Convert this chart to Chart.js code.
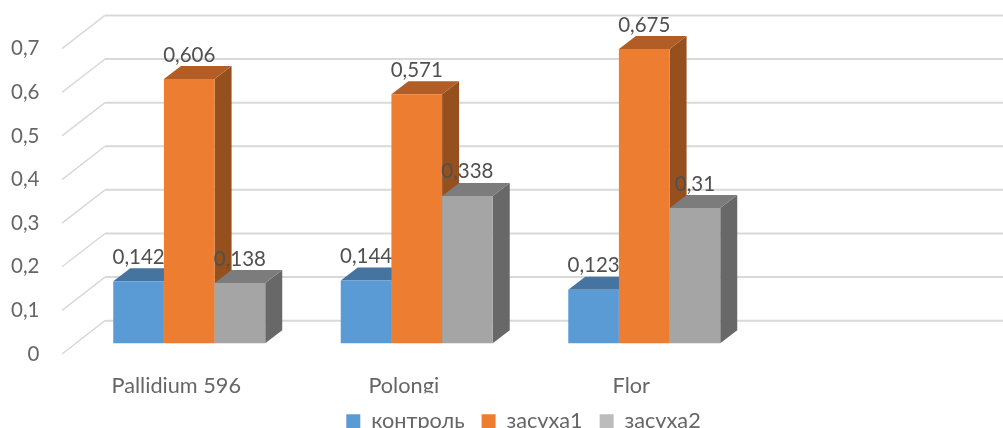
<!DOCTYPE html>
<html>
<head>
<meta charset="utf-8">
<title>контроль / засуха</title>
<script src="https://cdn.jsdelivr.net/npm/chart.js@4/dist/chart.umd.min.js"></script>
<style>
    html, body { margin: 0; padding: 0; background: #fff; overflow: hidden; }
    #chart-box { position: relative; width: 1003px; height: 428px; }
</style>
</head>
<body>
<div id="chart-box"><canvas id="drought-chart"></canvas></div>
<script>
// Values per variety; the last category stays empty and only reserves room on the axis
const categories = ['Pallidium 596', 'Polongi', 'Flor', ''];
const seriesNames = ['контроль', 'засуха1', 'засуха2'];
const kontrol = [0.142, 0.144, 0.123, null];
const zasukha1 = [0.606, 0.571, 0.675, null];
const zasukha2 = [0.138, 0.338, 0.31, null];
const yStep = 0.1;
const yMax = 0.7;

const frontColors = ['#5B9BD5', '#ED7D31', '#A5A5A5'];
const topColors = ['#44749F', '#B25D25', '#7C7C7C'];
const sideColors = ['#3F6C95', '#95501D', '#686868'];
const legendColors = ['#5B9BD5', '#ED7D31', '#BBBCBB'];

const FONT = 'Lato, "Open Sans", sans-serif';
const VALUE_FONT_SIZE = 20.5;
const LABEL_FONT_SIZE = 21.7;
const TICK_COLOR = '#666666';
const VALUE_COLOR = '#505050';
const GRID_COLOR = '#D9D9D9';

// Bar depth on screen
const BAR_DX = 17;
const BAR_DY = 13;
// Back wall and the front end of the side wall, relative to the bar baseline
const WALL_X = 105;
const WALL_DY = -22.6;
const SIDE_X = 62;
const SIDE_DY = 10.7;

function commaNumber(value) {
    return String(parseFloat(value.toFixed(3))).replace('.', ',');
}

function fillPoly(ctx, color, points) {
    ctx.fillStyle = color;
    ctx.beginPath();
    points.forEach((p, i) => (i ? ctx.lineTo(p[0], p[1]) : ctx.moveTo(p[0], p[1])));
    ctx.closePath();
    ctx.fill();
}

function drawWalls(chart) {
    const ctx = chart.ctx;
    const y = chart.scales.y;
    ctx.save();
    ctx.strokeStyle = GRID_COLOR;
    y.ticks.forEach((tick) => {
        const py = y.getPixelForValue(tick.value);
        ctx.lineWidth = 2;
        ctx.beginPath();
        ctx.moveTo(WALL_X, py + WALL_DY);
        ctx.lineTo(chart.width, py + WALL_DY);
        ctx.stroke();
        ctx.lineWidth = 1.5;
        ctx.beginPath();
        ctx.moveTo(SIDE_X, py + SIDE_DY);
        ctx.lineTo(WALL_X, py + WALL_DY);
        ctx.stroke();
    });
    ctx.restore();
}

function drawDepthFaces(chart, index) {
    const ctx = chart.ctx;
    chart.getDatasetMeta(index).data.forEach((bar, i) => {
        if (chart.data.datasets[index].data[i] === null) return;
        const left = bar.x - bar.width / 2;
        const right = bar.x + bar.width / 2;
        fillPoly(ctx, sideColors[index], [
            [right, bar.y],
            [right + BAR_DX, bar.y - BAR_DY],
            [right + BAR_DX, bar.base - BAR_DY],
            [right, bar.base],
        ]);
        fillPoly(ctx, topColors[index], [
            [left, bar.y],
            [left + BAR_DX, bar.y - BAR_DY],
            [right + BAR_DX, bar.y - BAR_DY],
            [right, bar.y],
        ]);
    });
}

const depthPlugin = {
    id: 'depth',
    // Series go left to right here, each one covering the depth faces of the previous
    beforeDatasetsDraw(chart) {
        drawWalls(chart);
        chart.data.datasets.forEach((dataset, index) => {
            drawDepthFaces(chart, index);
            chart.getDatasetMeta(index).controller.draw();
        });
        return false;
    },
    afterDraw(chart) {
        const ctx = chart.ctx;
        ctx.save();
        ctx.font = VALUE_FONT_SIZE + 'px ' + FONT;
        ctx.textBaseline = 'middle';

        ctx.textAlign = 'center';
        ctx.fillStyle = VALUE_COLOR;
        chart.data.datasets.forEach((dataset, index) => {
            chart.getDatasetMeta(index).data.forEach((bar, i) => {
                const value = dataset.data[i];
                if (value === null) return;
                ctx.fillText(commaNumber(value), bar.x, bar.y - 24);
            });
        });

        // y labels sit at the front end of the side wall lines
        const y = chart.scales.y;
        ctx.textAlign = 'right';
        ctx.fillStyle = TICK_COLOR;
        y.ticks.forEach((tick) => {
            ctx.fillText(commaNumber(tick.value), 39.5, y.getPixelForValue(tick.value) + SIDE_DY);
        });
        ctx.restore();
    },
};

const seriesValues = [kontrol, zasukha1, zasukha2];

new Chart(document.getElementById('drought-chart'), {
    type: 'bar',
    plugins: [depthPlugin],
    data: {
        labels: categories,
        datasets: seriesNames.map((name, i) => ({
            label: name,
            data: seriesValues[i],
            backgroundColor: frontColors[i],
            borderWidth: 0,
            categoryPercentage: 0.668,
            barPercentage: 1,
        })),
    },
    options: {
        responsive: true,
        maintainAspectRatio: false,
        animation: false,
        layout: {
            padding: { top: 38, left: 61.5, right: 17.5, bottom: -14 },
        },
        plugins: {
            title: { display: false },
            tooltip: { enabled: false },
            legend: {
                display: true,
                position: 'bottom',
                labels: {
                    boxWidth: 14,
                    boxHeight: 14,
                    padding: 17,
                    color: TICK_COLOR,
                    font: { family: FONT, size: LABEL_FONT_SIZE },
                    generateLabels(chart) {
                        const items = Chart.defaults.plugins.legend.labels.generateLabels(chart);
                        items.forEach((item) => {
                            item.fillStyle = legendColors[item.datasetIndex];
                            item.lineWidth = 0;
                        });
                        return items;
                    },
                },
            },
        },
        scales: {
            x: {
                grid: { display: false },
                border: { display: false },
                afterFit(scale) {
                    scale.height = 50;
                },
                ticks: {
                    color: TICK_COLOR,
                    font: { family: FONT, size: LABEL_FONT_SIZE },
                    labelOffset: -13,
                    padding: 22,
                    maxRotation: 0,
                    autoSkip: false,
                },
            },
            y: {
                min: 0,
                max: yMax,
                grid: { display: false },
                border: { display: false },
                afterFit(scale) {
                    scale.width = 14;
                },
                ticks: { display: false, stepSize: yStep },
            },
        },
    },
});
</script>
</body>
</html>
